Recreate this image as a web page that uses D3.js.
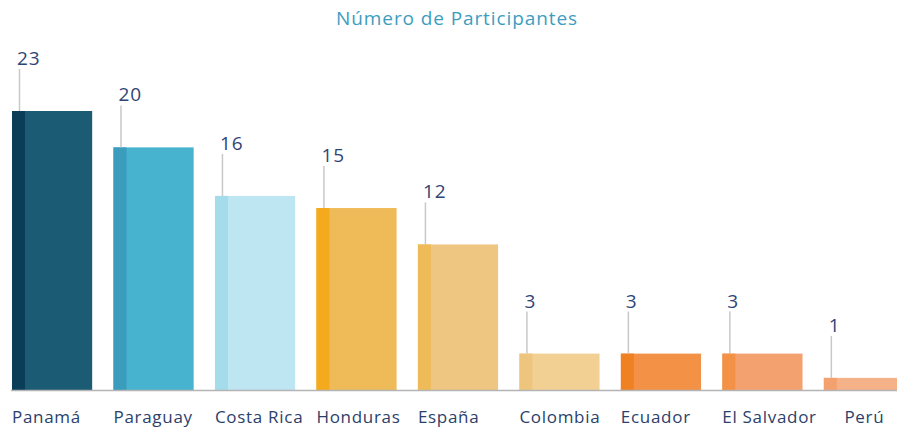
<!DOCTYPE html>
<html>
<head>
<meta charset="utf-8">
<script src="https://cdn.jsdelivr.net/npm/d3@7"></script>
<style>
  body { margin: 0; background: #fff; }
  svg { display: block; font-family: "Open Sans", "Noto Sans", sans-serif; }
</style>
</head>
<body>
<svg id="chart" width="897" height="427"></svg>
<script>
const countries = ['Panamá', 'Paraguay', 'Costa Rica', 'Honduras', 'España', 'Colombia', 'Ecuador', 'El Salvador', 'Perú'];
const participants = [23, 20, 16, 15, 12, 3, 3, 3, 1];
const mainColors = ['#1c5b74', '#47b3cf', '#bee5f2', '#eebb58', '#eec682', '#f2cf92', '#f39247', '#f3a26f', '#f5b187'];
const stripColors = ['#0a3d58', '#3b9cbd', '#a4dcec', '#f5a91d', '#eebb58', '#edc57c', '#f08123', '#f39247', '#f3a26f'];

const W = 897, H = 427;
const svg = d3.select('#chart');

const x = d3.scaleBand().domain(countries).range([12, 904]).paddingInner(0.21).paddingOuter(0);
const y = d3.scaleLinear().domain([0, 23]).range([390, 111]);

svg.append('text')
  .attr('x', 457).attr('y', 25)
  .attr('text-anchor', 'middle')
  .attr('fill', '#3d9dc0')
  .style('font-size', '19px')
  .style('letter-spacing', '0.9px')
  .text('Número de Participantes');

const g = svg.selectAll('.bar')
  .data(countries)
  .join('g')
  .attr('class', 'bar');

g.append('rect')
  .attr('x', d => x(d))
  .attr('y', (d, i) => y(participants[i]))
  .attr('width', x.bandwidth())
  .attr('height', (d, i) => y(0) - y(participants[i]))
  .attr('fill', (d, i) => mainColors[i]);

g.append('rect')
  .attr('x', d => x(d))
  .attr('y', (d, i) => y(participants[i]))
  .attr('width', 13)
  .attr('height', (d, i) => y(0) - y(participants[i]))
  .attr('fill', (d, i) => stripColors[i]);

// leader lines + value labels
g.append('line')
  .attr('x1', d => x(d) + 7.5).attr('x2', d => x(d) + 7.5)
  .attr('y1', (d, i) => y(participants[i]) - 42)
  .attr('y2', (d, i) => y(participants[i]))
  .attr('stroke', '#c8c8c8')
  .attr('stroke-width', 1.5);

g.append('text')
  .attr('x', d => x(d) + 5)
  .attr('y', (d, i) => y(participants[i]) - 46)
  .attr('fill', '#2f4476')
  .style('font-size', '19px')
  .style('letter-spacing', '1px')
  .text((d, i) => participants[i]);

// baseline
svg.append('line')
  .attr('x1', 11).attr('x2', W)
  .attr('y1', y(0) + 0.5).attr('y2', y(0) + 0.5)
  .attr('stroke', '#b4b4b4')
  .attr('stroke-width', 1.5);

// category labels
const last = countries[countries.length - 1];
svg.selectAll('.cat')
  .data(countries)
  .join('text')
  .attr('class', 'cat')
  .attr('x', d => d === last ? (x(d) + W) / 2 + 4 : x(d))
  .attr('y', 423)
  .attr('text-anchor', d => d === last ? 'middle' : 'start')
  .attr('fill', '#2b3f6b')
  .style('font-size', '17px')
  .style('letter-spacing', '0.7px')
  .text(d => d);
</script>
</body>
</html>
